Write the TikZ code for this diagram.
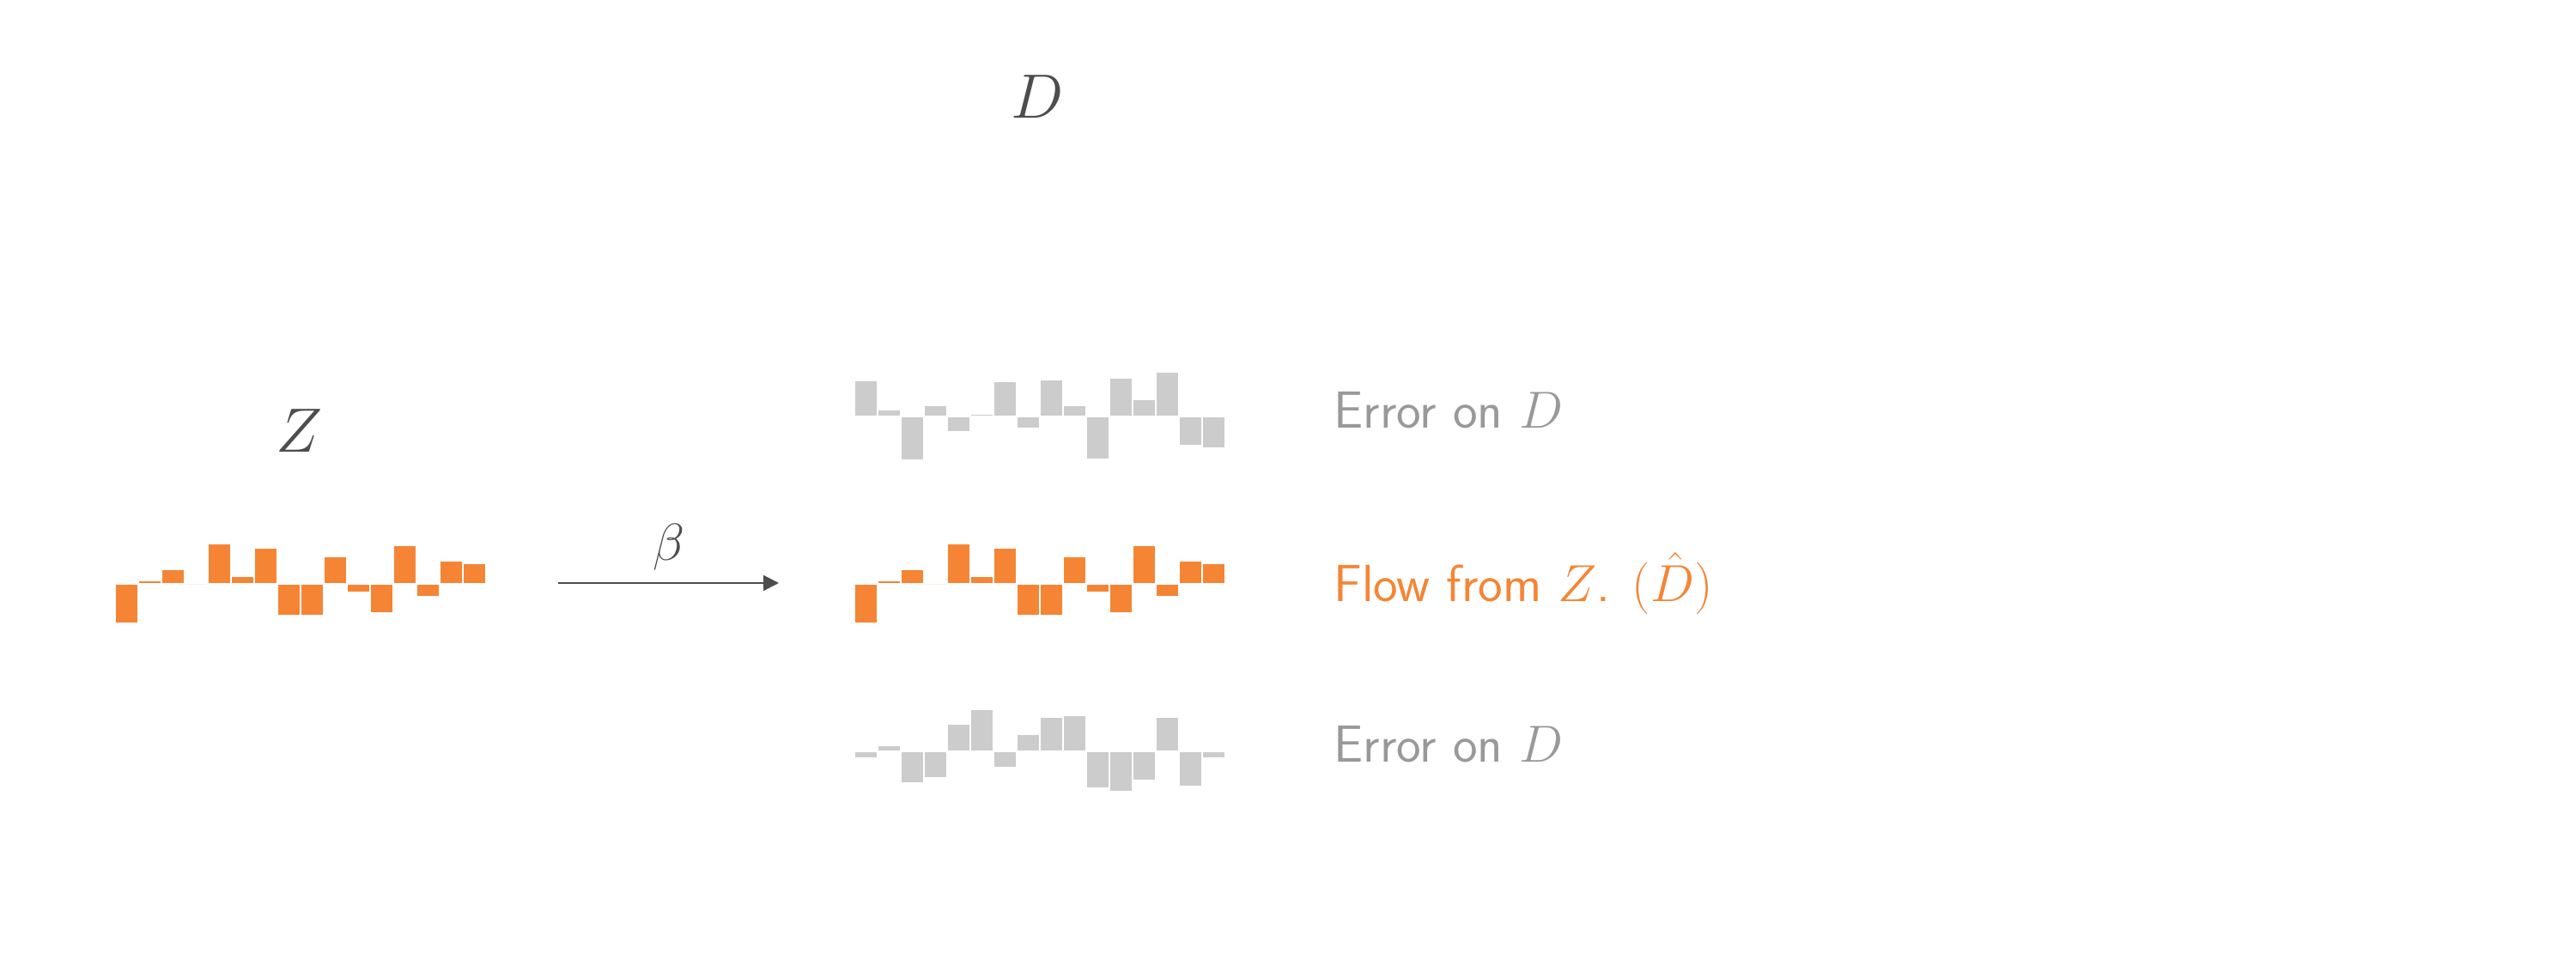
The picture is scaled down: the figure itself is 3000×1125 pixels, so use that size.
\documentclass[tikz,border=0pt]{standalone}
\usepackage{amsmath,amssymb}
\usepackage{tikz}
\usetikzlibrary{arrows.meta}
\definecolor{floworange}{HTML}{F58535}
\definecolor{errorgray}{HTML}{CCCCCC}
\definecolor{textgray}{HTML}{999999}
\definecolor{labelgray}{HTML}{4D4D4D}

\begin{document}
\begin{tikzpicture}[x=0.01cm,y=0.01cm,
        flowbar/.style={fill=floworange},
        errorbar/.style={fill=errorgray},
        rowlabel/.style={anchor=base west,inner sep=0pt,font=\LARGE\sffamily}]
        \useasboundingbox (0,0) rectangle (3000,1125);

        \node[text=labelgray,font=\huge] (D) at (1208,1012) {$D$};
        \node[text=labelgray,font=\huge] (Z) at (349,623) {$Z$};

        % latent Z
        \foreach \h [count=\i from 0] in {-44,2,15,0,45,7,40,-35,-35,30,-8,-32,43,-13,25,22}
            \fill[flowbar] (135+\i*27,{445+sign(\h)}) rectangle ++(25,\h);

        % error above D
        \foreach \h [count=\i from 0] in {40,6,-49,11,-16,1,39,-12,41,11,-48,43,18,50,-32,-35}
            \fill[errorbar] (996+\i*27,{640+sign(\h)}) rectangle ++(25,\h);

        % flow from Z
        \foreach \h [count=\i from 0] in {-44,2,15,0,45,7,40,-35,-35,30,-8,-32,43,-13,25,22}
            \fill[flowbar] (996+\i*27,{445+sign(\h)}) rectangle ++(25,\h);

        % error below D
        \foreach \h [count=\i from 0] in {-6,5,-35,-29,30,47,-17,18,38,40,-41,-45,-32,38,-39,-6}
            \fill[errorbar] (996+\i*27,{250+sign(\h)}) rectangle ++(25,\h);

        \coordinate (betastart) at (650,446);
        \coordinate (betaend) at (907,446);
        \draw[labelgray,line width=0.6pt,-{Triangle[length=0.18cm,width=0.18cm]}] (betastart) -- node[above,inner sep=4pt,font=\LARGE] (beta) {$\beta$} (betaend);

        \node[rowlabel,text=textgray] (errortop) at (1553,626) {Error on $D$};
        \node[rowlabel,text=floworange] (flow) at (1553,424) {Flow from $Z$. $(\hat{D})$};
        \node[rowlabel,text=textgray] (errorbottom) at (1553,237) {Error on $D$};
    \end{tikzpicture}
\end{document}
